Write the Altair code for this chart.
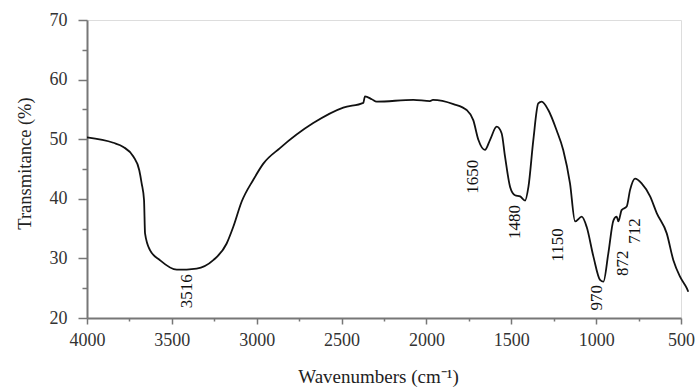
import altair as alt
import pandas as pd

# Spectrum trace (wavenumber cm-1, transmittance %)
wavenumber = [4000, 3845, 3786, 3727, 3692, 3678, 3664, 3658, 3629, 3570, 3471, 3354,
              3256, 3177, 3138, 3089, 3020, 2961, 2863, 2667, 2490, 2372, 2362, 2322,
              2293, 2077, 1979, 1962, 1841, 1763, 1724, 1694, 1655, 1625, 1586, 1557,
              1537, 1507, 1478, 1448, 1419, 1399, 1370, 1341, 1321, 1282, 1233, 1194,
              1154, 1124, 1085, 1056, 1016, 977, 957, 928, 898, 879, 869, 850, 820,
              800, 771, 732, 682, 643, 584, 545, 505, 466, 457]
transmittance = [50.3, 49.4, 48.7, 47.1, 44.8, 42.6, 39.8, 34.2, 31.4, 29.7, 28.1, 28.3,
                 29.7, 32.5, 35.3, 39.5, 43.2, 45.9, 48.5, 52.7, 55.3, 56.1, 57.2, 56.7,
                 56.3, 56.6, 56.4, 56.6, 55.9, 54.9, 53.2, 49.9, 48.2, 49.9, 52.1, 51.0,
                 47.1, 42.0, 40.6, 40.4, 39.7, 42.0, 49.9, 56.0, 56.3, 54.9, 51.5, 48.2,
                 42.6, 36.2, 37.0, 35.3, 30.3, 26.4, 26.1, 30.9, 36.4, 37.0, 36.2, 38.1,
                 38.7, 41.5, 43.4, 42.6, 40.4, 37.6, 34.2, 29.7, 26.9, 25.0, 24.4]

# Peak annotations
peak_labels = ["3516", "1650", "1480", "1150", "970", "872", "712"]
peak_x = [3413, 1725, 1478, 1225, 995, 842, 771]
peak_y = [24.5, 43.7, 36.1, 32.25, 23.4, 29.2, 34.6]

x_major = [4000, 3500, 3000, 2500, 2000, 1500, 1000, 500]
x_minor = [3750, 3250, 2750, 2250, 1750, 1250, 750]
y_major = [20, 30, 40, 50, 60, 70]
y_minor = [25, 35, 45, 55, 65]

spec = pd.DataFrame({"w": wavenumber, "t": transmittance})
peaks = pd.DataFrame({"label": peak_labels, "w": peak_x, "t": peak_y})

FONT = "Liberation Serif"
AX = "#777"

x_scale = alt.Scale(domain=[500, 4000], reverse=True, nice=False, zero=False)
y_scale = alt.Scale(domain=[20, 70], nice=False, zero=False)

x_axis = alt.Axis(
    orient="bottom", values=x_major, format="d", labelFlush=False,
    tickSize=6, grid=False, domainColor=AX, domainWidth=2, tickColor=AX, tickWidth=1.5,
    labelFont=FONT, labelFontSize=18, labelColor="#333", labelPadding=7,
    title="Wavenumbers (cm⁻¹)", titleFont=FONT, titleFontSize=19, titleFontWeight="normal",
    titleColor="#222", titleX=291, titleY=64, titleAlign="center", titleBaseline="alphabetic",
    titleAnchor="start",
)
y_axis = alt.Axis(
    orient="left", values=y_major, format="d", labelFlush=False,
    tickSize=9, grid=False, domainColor=AX, domainWidth=2, tickColor=AX, tickWidth=1.5,
    labelFont=FONT, labelFontSize=18, labelColor="#333", labelPadding=11,
    title="Transmitance (%)", titleFont=FONT, titleFontSize=18.5, titleFontWeight="normal",
    titleColor="#222", titleAngle=270, titleX=-63, titleY=143, titleAlign="center",
    titleBaseline="middle", titleAnchor="start",
)
x_axis_minor = alt.Axis(
    orient="bottom", values=x_minor, labels=False, domain=False, grid=False,
    tickSize=3, tickColor=AX, tickWidth=1.5, title=None,
)
y_axis_minor = alt.Axis(
    orient="left", values=y_minor, labels=False, domain=False, grid=False,
    tickSize=5, tickColor=AX, tickWidth=1.5, title=None,
)

line = alt.Chart(spec).mark_line(color="#111", strokeWidth=1.8, interpolate="monotone").encode(
    x=alt.X("w:Q", scale=x_scale, axis=x_axis),
    y=alt.Y("t:Q", scale=y_scale, axis=y_axis),
    order=alt.Order("w:Q", sort="descending"),
)

minor = alt.Chart(spec).mark_point(opacity=0).encode(
    x=alt.X("w:Q", scale=x_scale, axis=x_axis_minor),
    y=alt.Y("t:Q", scale=y_scale, axis=y_axis_minor),
)

text = alt.Chart(peaks).mark_text(
    angle=270, align="center", baseline="middle", font=FONT, fontSize=17, color="#111"
).encode(
    x=alt.X("w:Q", scale=x_scale, axis=None),
    y=alt.Y("t:Q", scale=y_scale, axis=None),
    text="label:N",
)

chart = alt.layer(line, minor, text).resolve_axis(
    x="independent", y="independent"
).properties(
    width=594, height=298,
    autosize=alt.AutoSizeParams(type="none"),
    padding={"left": 87, "top": 20, "right": 18, "bottom": 69},
).configure_view(stroke=None).configure(background="white")

chart.save("out.html", embed_options={"renderer": "svg", "actions": False})
